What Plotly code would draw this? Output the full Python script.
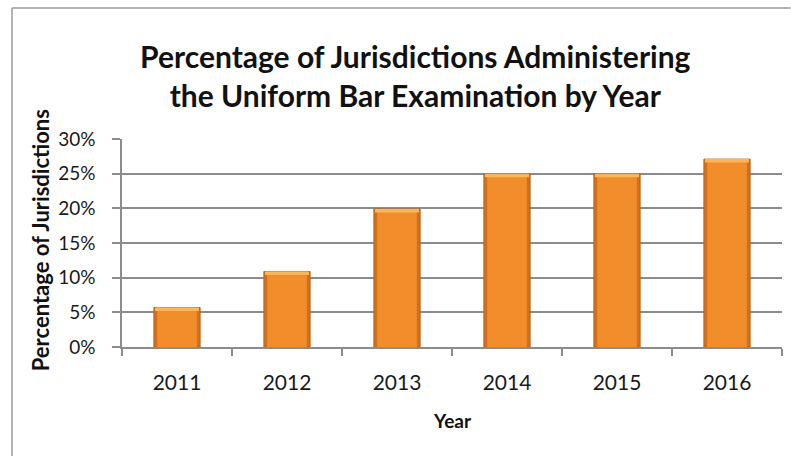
import plotly.graph_objects as go

years = ["2011", "2012", "2013", "2014", "2015", "2016"]
pct = [5.7, 10.9, 19.9, 25.0, 25.0, 27.1]
y_ticks = [0, 5, 10, 15, 20, 25, 30]
y_labels = ["0%", "5%", "10%", "15%", "20%", "25%", "30%"]

font_family = "Lato, 'DejaVu Sans Condensed', sans-serif"
grid_col = "#8c8c8c"

fig = go.Figure()
# base bar (darker edge)
fig.add_trace(go.Bar(
    x=years, y=pct, width=0.42,
    marker=dict(color="#D2701B", line=dict(color="#B8621A", width=1)),
    hoverinfo="skip", showlegend=False,
))
# inner lighter face
fig.add_trace(go.Bar(
    x=years, y=pct, width=0.36,
    marker=dict(color="#F28D2B", line=dict(width=0)),
    hoverinfo="skip", showlegend=False,
))
# top highlight
fig.add_trace(go.Bar(
    x=years, y=[0.5] * len(pct), base=[v - 0.5 for v in pct], width=0.40,
    marker=dict(color="#FDB55A", line=dict(width=0)),
    hoverinfo="skip", showlegend=False,
))

fig.update_layout(
    width=791, height=456,
    margin=dict(l=122, r=9, t=139, b=109),
    paper_bgcolor="white", plot_bgcolor="white",
    barmode="overlay",
    font=dict(family=font_family, color="#1a1a1a"),
    title=dict(
        text="<b>Percentage of Jurisdictions Administering<br>the Uniform Bar Examination by Year</b>",
        x=0.525, xanchor="center", y=0.85, yanchor="middle",
        font=dict(size=30, family=font_family, color="#111111"),
    ),
    xaxis=dict(
        type="category", tickson="boundaries", ticks="outside", ticklen=7,
        tickcolor=grid_col, tickwidth=1.5, showline=True, linecolor=grid_col, linewidth=1.5,
        showgrid=False, tickfont=dict(size=21, color="#1a1a1a"), ticklabelstandoff=16,
    ),
    yaxis=dict(
        range=[0, 30], tickvals=y_ticks, ticktext=y_labels,
        ticks="outside", ticklen=8, tickcolor=grid_col, tickwidth=1.5,
        showline=True, linecolor=grid_col, linewidth=1.5,
        showgrid=True, gridcolor=grid_col, gridwidth=1.5, zeroline=False,
        tickfont=dict(size=19, color="#1a1a1a"), ticklabelstandoff=13,
    ),
    annotations=[
        dict(text="<b>Percentage of Jurisdictions</b>", textangle=-90,
             xref="paper", yref="paper", x=-0.124, y=0.514,
             xanchor="center", yanchor="middle", showarrow=False,
             font=dict(size=22, family=font_family, color="#111111")),
        dict(text="<b>Year</b>", xref="paper", yref="paper", x=0.5, y=-0.351,
             xanchor="center", yanchor="middle", showarrow=False,
             font=dict(size=19, family=font_family, color="#111111")),
    ],
    shapes=[
        dict(type="line", xref="paper", yref="paper",
             x0=-0.1667, x1=-0.1667, y0=-0.6, y1=1.63,
             line=dict(color="#9a9a9a", width=1.5), layer="below"),
        dict(type="line", xref="paper", yref="paper",
             x0=-0.1667, x1=1.013, y0=1.63, y1=1.63,
             line=dict(color="#9a9a9a", width=1.5), layer="below"),
    ],
)

fig.write_html(
    "out.html", config={"displayModeBar": False},
    post_script=(
        "document.documentElement.style.margin='0';"
        "document.documentElement.style.overflow='hidden';"
        "document.body.style.margin='0';document.body.style.overflow='hidden';"
    ),
)
